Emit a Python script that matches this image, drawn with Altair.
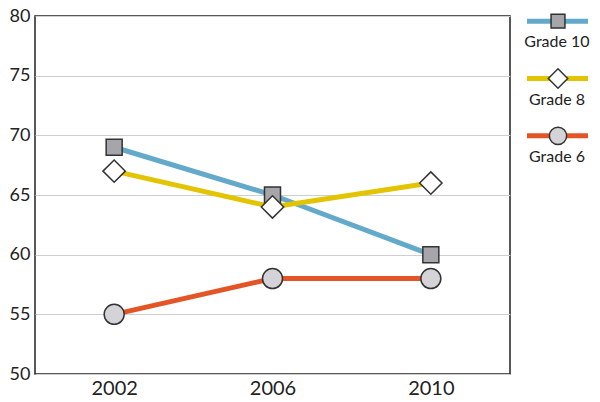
import altair as alt
import pandas as pd

years = ["2002", "2006", "2010"]
grades = ["Grade 10", "Grade 8", "Grade 6"]
grade10 = [69, 65, 60]
grade8 = [67, 64, 66]
grade6 = [55, 58, 58]

line_colors = ["#63a9c9", "#e3c400", "#e35527"]
shapes = ["square", "diamond", "circle"]
fills = ["#a6a6aa", "#ffffff", "#d4d4d8"]
sizes = [256, 500, 400]
FONT = "Lato"

rows = []
for g, vals in zip(grades, [grade10, grade8, grade6]):
    for y, v in zip(years, vals):
        rows.append({"year": y, "grade": g, "score": v})
df = pd.DataFrame(rows)

x = alt.X("year:O", axis=alt.Axis(labelAngle=0, title=None, ticks=False, labelPadding=4,
                                  domain=False, labelFontSize=20))
y = alt.Y("score:Q", scale=alt.Scale(domain=[50, 80]),
          axis=alt.Axis(values=list(range(50, 81, 5)), title=None, ticks=False, labelPadding=5,
                        gridColor="#cfcfcf", domain=False, labelFontSize=18))

layers = []
for g, c in zip(grades, line_colors):
    base = alt.Chart(df).transform_filter(alt.datum.grade == g)
    layers.append(base.mark_line(color=c, strokeWidth=5).encode(x=x, y=y))
for g, s, f, sz in zip(grades, shapes, fills, sizes):
    base = alt.Chart(df).transform_filter(alt.datum.grade == g)
    layers.append(base.mark_point(shape=s, fill=f, filled=True, stroke="#333333",
                                  strokeWidth=1.5, size=sz, opacity=1).encode(x=x, y=y))

main = alt.layer(*layers).properties(
    width=475, height=358,
    view=alt.ViewBackground(stroke="#222222", strokeWidth=1.5),
)

# custom legend: a line with marker, label underneath
leg = pd.DataFrame({"grade": grades, "a": [0] * 3, "b": [1] * 3})
ly = alt.Y("grade:N", sort=grades, scale=alt.Scale(type="point", padding=0.09), axis=None)
lx = alt.X("a:Q", scale=alt.Scale(domain=[0, 1]), axis=None)
leg_layers = []
for g, c, s, f, sz in zip(grades, line_colors, shapes, fills, sizes):
    lb = alt.Chart(leg).transform_filter(alt.datum.grade == g)
    leg_layers.append(lb.mark_rule(color=c, strokeWidth=5).encode(x=lx, x2="b:Q", y=ly))
    leg_layers.append(lb.mark_point(shape=s, fill=f, filled=True, stroke="#333333", strokeWidth=1.5,
                                    size=sz * 0.75, opacity=1)
                      .encode(x=alt.value(31), y=ly))
    leg_layers.append(lb.mark_text(font=FONT, fontSize=16, dy=21, baseline="middle", color="#222222")
                      .encode(x=alt.value(30), y=ly, text="grade:N"))
legend = alt.layer(*leg_layers).properties(
    width=61, height=125, view=alt.ViewBackground(stroke=None)
)

chart = (
    alt.hconcat(main, legend, spacing=13)
    .properties(padding={"left": 0, "top": -2, "right": 0, "bottom": 0})
    .configure_axis(labelFont=FONT, labelColor="#222222")
)
chart.save("out.html", embed_options={"renderer": "svg", "actions": False})
